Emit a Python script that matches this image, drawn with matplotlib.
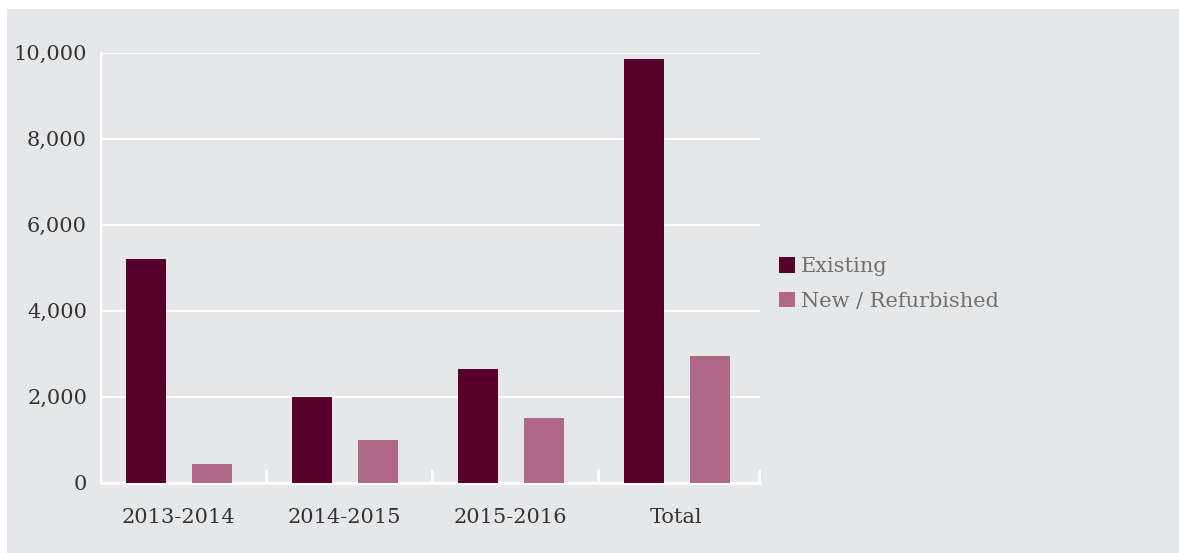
import matplotlib.pyplot as plt
from matplotlib.patches import Rectangle
from matplotlib.ticker import FuncFormatter
import numpy as np

categories = ['2013-2014', '2014-2015', '2015-2016', 'Total']
existing = [5200, 2000, 2650, 9850]
new_refurb = [435, 1000, 1500, 2935]
series_names = ['Existing', 'New / Refurbished']

c_exist = '#58002B'
c_new = '#B06888'
bg = '#E6E7E9'
font = 'DejaVu Serif'

W, H = 1179, 553
fig = plt.figure(figsize=(W / 100, H / 100), dpi=100)
fig.patch.set_facecolor('white')
fig.patches.append(Rectangle((7 / W, 0), 1 - 7 / W, 1 - 9 / H,
                             transform=fig.transFigure, facecolor=bg,
                             edgecolor='none', zorder=-10))

ax = fig.add_axes([101 / W, 1 - 482.7 / H, (760 - 101) / W, (482.7 - 52.7) / H])
ax.set_facecolor(bg)

x = np.arange(len(categories))
bw = 0.241
ax.bar(x - 0.225, existing, bw, color=c_exist, label=series_names[0], zorder=3)
ax.bar(x + 0.173, new_refurb, bw, color=c_new, label=series_names[1], zorder=3)

ax.set_xlim(-0.496, 3.474)
ax.set_ylim(0, 10000)
ax.set_yticks(range(0, 10001, 2000))
ax.yaxis.set_major_formatter(FuncFormatter(lambda v, p: '{:,}'.format(int(v))))
ax.yaxis.grid(True, color='white', linewidth=1.5, zorder=1)
ax.set_axisbelow(True)

ax.set_xticks(x - 0.03)
ax.set_xticklabels(categories)
ax.set_xticks([0.5, 1.5, 2.5, 3.47], minor=True)
ax.tick_params(axis='x', which='major', length=0, pad=18, labelsize=15, labelcolor='#333333')
ax.tick_params(axis='x', which='minor', direction='in', length=10, width=2, color='white')
ax.tick_params(axis='y', length=0, pad=10, labelsize=15, labelcolor='#333333')
for lab in ax.get_xticklabels() + ax.get_yticklabels():
    lab.set_family(font)

for s in ['top', 'right']:
    ax.spines[s].set_visible(False)
ax.spines['left'].set_color('white')
ax.spines['left'].set_linewidth(1.5)
ax.spines['bottom'].set_color('white')
ax.spines['bottom'].set_linewidth(2)

leg = ax.legend(loc='center left', bbox_to_anchor=((779 - 101) / 659, 0.462),
                frameon=False, borderpad=0, borderaxespad=0,
                handlelength=0.75, handleheight=0.75, handletextpad=0.3,
                labelspacing=0.75, prop={'family': font, 'size': 15})
for t in leg.get_texts():
    t.set_color('#707070')

fig.savefig('out.png', dpi=100)
